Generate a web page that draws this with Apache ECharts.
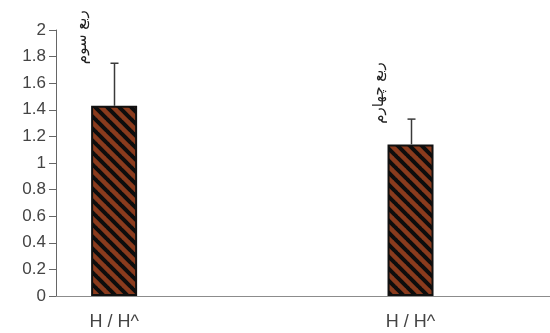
<!DOCTYPE html>
<html>
<head>
<meta charset="utf-8">
<script src="https://cdn.jsdelivr.net/npm/echarts@6/dist/echarts.min.js"></script>
<style>
  html, body { margin: 0; padding: 0; background: #fff; }
  #chart { width: 550px; height: 333px; }
</style>
</head>
<body>
<div id="chart"></div>
<script>
// data
var categories = ['H / H^', 'H / H^'];
var notes = ['ربع سوم', 'ربع چهارم'];
var xPos = [1, 6.1];
var means = [1.43, 1.14];
var errTops = [1.75, 1.33];
var yTicks = [0, 0.2, 0.4, 0.6, 0.8, 1, 1.2, 1.4, 1.6, 1.8, 2];

// hatch pattern: brown with black diagonal stripes
function makeHatch() {
  var s = 12;
  var c = document.createElement('canvas');
  c.width = s; c.height = s;
  var ctx = c.getContext('2d');
  ctx.fillStyle = '#8a3b1d';
  ctx.fillRect(0, 0, s, s);
  ctx.strokeStyle = '#0d0d0d';
  ctx.lineWidth = 4;
  for (var k = -1; k <= 1; k++) {
    ctx.beginPath();
    ctx.moveTo(k * s - 1, -1);
    ctx.lineTo(k * s + s + 1, s + 1);
    ctx.stroke();
  }
  return c;
}

var chart = echarts.init(document.getElementById('chart'));

var barData = xPos.map(function (x, i) { return [x, means[i]]; });
var errData = xPos.map(function (x, i) { return [x, means[i], errTops[i]]; });

chart.setOption({
  animation: false,
  grid: { left: 56, right: 0, top: 30, bottom: 37 },
  xAxis: {
    type: 'value',
    min: 0,
    max: 8.5,
    splitLine: { show: false },
    axisLine: { lineStyle: { color: '#8c8c8c', width: 1 } },
    axisTick: { show: false },
    axisLabel: {
      customValues: xPos,
      formatter: function (v) {
        var i = xPos.indexOf(v);
        return i >= 0 ? categories[i] : '';
      },
      margin: 17,
      color: '#444',
      fontSize: 18,
      fontFamily: '"Liberation Sans", Arial, sans-serif'
    }
  },
  yAxis: {
    type: 'value',
    min: yTicks[0],
    max: yTicks[yTicks.length - 1],
    interval: 0.2,
    splitLine: { show: false },
    axisLine: { show: true, lineStyle: { color: '#666', width: 1 } },
    axisTick: { show: true, inside: false, length: 7, lineStyle: { color: '#666' } },
    axisLabel: {
      margin: 10,
      color: '#444',
      fontSize: 17,
      fontFamily: '"Liberation Sans", Arial, sans-serif'
    }
  },
  series: [
    {
      type: 'bar',
      data: barData,
      barWidth: 46,
      itemStyle: {
        color: { image: makeHatch(), repeat: 'repeat' },
        borderColor: '#111',
        borderWidth: 2
      },
      z: 2
    },
    {
      type: 'custom',
      data: errData,
      z: 3,
      renderItem: function (params, api) {
        var base = api.coord([api.value(0), api.value(1)]);
        var top = api.coord([api.value(0), api.value(2)]);
        var cx = Math.round(base[0]) + 0.5;
        var lineStyle = { stroke: '#3a3a3a', lineWidth: 1.5 };
        return {
          type: 'group',
          children: [
            { type: 'line', shape: { x1: cx, y1: base[1], x2: cx, y2: top[1] }, style: lineStyle },
            { type: 'line', shape: { x1: cx - 4, y1: top[1], x2: cx + 4, y2: top[1] }, style: lineStyle },
            {
              type: 'text',
              x: cx - 32,
              y: top[1] - 26,
              rotation: Math.PI / 2,
              style: {
                text: notes[params.dataIndex],
                font: '15px "DejaVu Sans", sans-serif',
                fill: '#222',
                align: 'center',
                verticalAlign: 'middle'
              }
            }
          ]
        };
      }
    }
  ]
});
</script>
</body>
</html>
